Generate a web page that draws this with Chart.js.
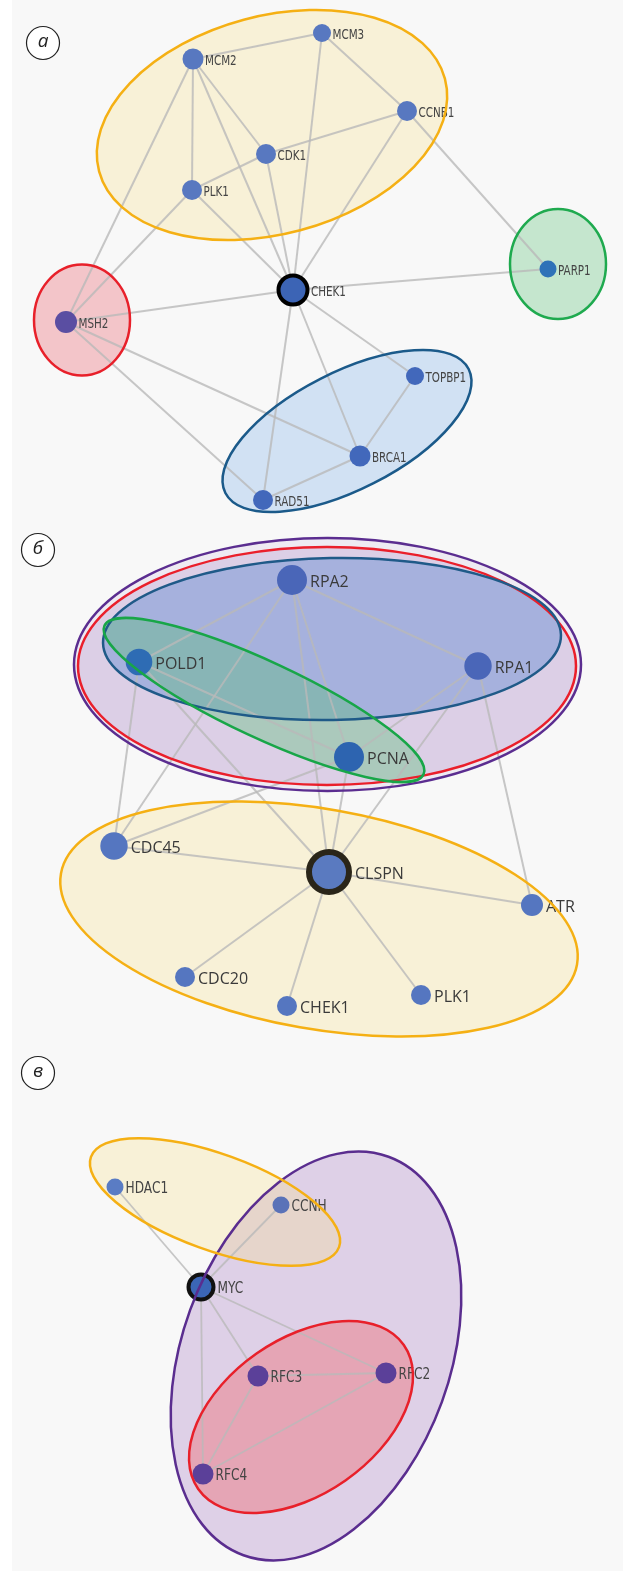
<!DOCTYPE html>
<html>
<head>
<meta charset="utf-8">
<script src="https://cdn.jsdelivr.net/npm/chart.js@4.4.1/dist/chart.umd.min.js"></script>
<style>
  html, body { margin: 0; padding: 0; background: #fff; }
  canvas { display: block; }
</style>
</head>
<body>
<canvas id="net" width="623" height="1571" style="width:623px;height:1571px"></canvas>
<script>
// panel а
const genesA = ["MCM2", "MCM3", "CCNB1", "CDK1", "PLK1", "CHEK1", "PARP1", "MSH2", "TOPBP1", "BRCA1", "RAD51"];
const xA = [193, 322, 407, 266, 192, 293, 548, 66, 415, 360, 263];
const yA = [59, 33, 111, 154, 190, 290, 269, 322, 376, 456, 500];
const edgesA = [
  ["MCM2", "MCM3"], ["MCM2", "PLK1"], ["MCM2", "CDK1"], ["MCM2", "CHEK1"], ["MCM2", "MSH2"],
  ["MCM3", "CCNB1"], ["MCM3", "CHEK1"], ["CCNB1", "CDK1"], ["CCNB1", "CHEK1"], ["CCNB1", "PARP1"],
  ["CDK1", "PLK1"], ["CDK1", "CHEK1"], ["PLK1", "CHEK1"], ["PLK1", "MSH2"], ["CHEK1", "MSH2"],
  ["CHEK1", "PARP1"], ["CHEK1", "TOPBP1"], ["CHEK1", "BRCA1"], ["CHEK1", "RAD51"],
  ["MSH2", "BRCA1"], ["MSH2", "RAD51"], ["TOPBP1", "BRCA1"], ["BRCA1", "RAD51"]
];

// panel б
const genesB = ["RPA2", "POLD1", "RPA1", "PCNA", "CDC45", "CLSPN", "ATR", "CDC20", "CHEK1", "PLK1"];
const xB = [292, 139, 478, 349, 114, 329, 532, 185, 287, 421];
const yB = [580, 662, 666, 757, 846, 872, 905, 977, 1006, 995];
const edgesB = [
  ["RPA2", "POLD1"], ["RPA2", "RPA1"], ["RPA2", "CDC45"], ["RPA2", "PCNA"], ["RPA2", "CLSPN"],
  ["POLD1", "PCNA"], ["POLD1", "CLSPN"], ["POLD1", "CDC45"],
  ["RPA1", "PCNA"], ["RPA1", "CLSPN"], ["RPA1", "ATR"],
  ["PCNA", "CDC45"], ["PCNA", "CLSPN"], ["CDC45", "CLSPN"],
  ["CLSPN", "ATR"], ["CLSPN", "CDC20"], ["CLSPN", "CHEK1"], ["CLSPN", "PLK1"]
];

// panel в
const genesC = ["HDAC1", "CCNH", "MYC", "RFC3", "RFC2", "RFC4"];
const xC = [115, 281, 201, 258, 386, 203];
const yC = [1187, 1205, 1287, 1376, 1373, 1474];
const edgesC = [
  ["HDAC1", "MYC"], ["CCNH", "MYC"], ["MYC", "RFC3"], ["MYC", "RFC2"], ["MYC", "RFC4"],
  ["RFC3", "RFC2"], ["RFC3", "RFC4"], ["RFC2", "RFC4"]
];

const panelLetters = ["а", "б", "в"];

// look of each panel
const panels = [
  {
    genes: genesA, xs: xA, ys: yA, edges: edgesA, edgeWidth: 2,
    radius: [10.5, 9, 10, 10, 10, 14.5, 8.5, 11, 9, 10.5, 10],
    border: [0, 0, 0, 0, 0, 4, 0, 0, 0, 0, 0],
    fill: ["#5878c0", "#5878c0", "#5878c0", "#5878c0", "#5878c0", "#3c64b5", "#2f72b8", "#5a4ea2", "#4268bb", "#4268bb", "#4268bb"],
    ring: "#000",
    font: { size: 14, family: "'DejaVu Sans'", squeeze: 0.74, color: "#444" },
    gap: 1.5,
    letter: { x: 43, y: 43 },
    ellipses: [
      { cx: 272, cy: 125, rx: 179, ry: 109, rot: -15, fill: "rgba(250,225,140,0.3)", stroke: "#f5b014" },
      { cx: 82, cy: 320, rx: 48, ry: 55.5, rot: 0, fill: "rgba(236,120,130,0.4)", stroke: "#e8202a" },
      { cx: 558, cy: 264, rx: 48, ry: 55, rot: 0, fill: "rgba(80,190,110,0.3)", stroke: "#1faa4f" },
      { cx: 347, cy: 431, rx: 136.5, ry: 58.6, rot: -27, fill: "rgba(150,190,235,0.4)", stroke: "#1b5a8a" }
    ]
  },
  {
    genes: genesB, xs: xB, ys: yB, edges: edgesB, edgeWidth: 2,
    radius: [15, 13.3, 13.7, 15, 13.7, 20, 11, 10, 10, 10],
    border: [0, 0, 0, 0, 0, 6, 0, 0, 0, 0],
    fill: ["#4a66b8", "#2e6cb4", "#4a66b8", "#2d64b0", "#5576c0", "#5a7ac0", "#5576c0", "#5576c0", "#5576c0", "#5576c0"],
    ring: "#2a2519",
    font: { size: 16, family: "'Open Sans'", squeeze: 1, color: "#3a3a3a" },
    gap: 3,
    letter: { x: 38, y: 550 },
    ellipses: [
      { cx: 327.5, cy: 664.5, rx: 253.5, ry: 126.5, rot: 0, fill: "rgba(200,180,220,0.2)", stroke: "#5b2d90" },
      { cx: 327, cy: 666, rx: 249, ry: 119, rot: 0, fill: "rgba(187,157,208,0.35)", stroke: "#ea1f2b" },
      { cx: 332, cy: 639, rx: 229, ry: 81, rot: -1, fill: "rgba(100,140,210,0.45)", stroke: "#1f5a88" },
      { cx: 264, cy: 700, rx: 176, ry: 38, rot: 25, fill: "rgba(80,190,110,0.35)", stroke: "#18a648" },
      { cx: 319, cy: 919, rx: 262, ry: 110, rot: 10, fill: "rgba(250,225,140,0.3)", stroke: "#f5b014" }
    ]
  },
  {
    genes: genesC, xs: xC, ys: yC, edges: edgesC, edgeWidth: 1.8,
    radius: [8.5, 8.5, 12.5, 10.5, 10.5, 10.5],
    border: [0, 0, 4, 0, 0, 0],
    fill: ["#5a7cc4", "#5a72b8", "#3b66b6", "#5b4099", "#5b4099", "#5b4099"],
    ring: "#111",
    font: { size: 16, family: "'DejaVu Sans'", squeeze: 0.76, color: "#444" },
    gap: 2,
    letter: { x: 38, y: 1073 },
    ellipses: [
      { cx: 316, cy: 1356, rx: 134, ry: 212, rot: 20, fill: "rgba(190,160,210,0.45)", stroke: "#5a2d8f" },
      { cx: 215, cy: 1202, rx: 132, ry: 48, rot: 20, fill: "rgba(250,225,140,0.3)", stroke: "#f5b014" },
      { cx: 301, cy: 1417, rx: 125.5, ry: 77.5, rot: -35, fill: "rgba(236,122,131,0.5)", stroke: "#e8202a" }
    ]
  }
];

const datasets = [];
panels.forEach((p, pi) => {
  p.edges.forEach(([a, b]) => {
    const i = p.genes.indexOf(a);
    const j = p.genes.indexOf(b);
    datasets.push({
      data: [{ x: p.xs[i], y: p.ys[i] }, { x: p.xs[j], y: p.ys[j] }],
      showLine: true,
      borderColor: "rgba(185,185,185,0.8)",
      borderWidth: p.edgeWidth,
      pointRadius: 0,
      order: 2
    });
  });
  datasets.push({
    panel: pi,
    data: p.genes.map((g, i) => ({ x: p.xs[i], y: p.ys[i] })),
    pointRadius: p.radius,
    pointBackgroundColor: p.fill,
    pointBorderColor: p.ring,
    pointBorderWidth: p.border,
    order: 1
  });
});

function ellipsePath(chart, e) {
  const sx = chart.scales.x, sy = chart.scales.y, ctx = chart.ctx;
  const cx = sx.getPixelForValue(e.cx), cy = sy.getPixelForValue(e.cy);
  const rx = Math.abs(sx.getPixelForValue(e.cx + e.rx) - cx);
  const ry = Math.abs(sy.getPixelForValue(e.cy + e.ry) - cy);
  ctx.beginPath();
  ctx.ellipse(cx, cy, rx, ry, e.rot * Math.PI / 180, 0, Math.PI * 2);
}

const netPlugin = {
  id: "net",
  beforeDatasetsDraw(chart) {
    const ctx = chart.ctx;
    ctx.save();
    ctx.fillStyle = "#f8f8f8";
    ctx.fillRect(12, 0, chart.width - 12, chart.height);
    panels.forEach((p) => {
      p.ellipses.forEach((e) => {
        ellipsePath(chart, e);
        ctx.fillStyle = e.fill;
        ctx.fill();
      });
    });
    ctx.restore();
  },
  afterDatasetsDraw(chart) {
    const ctx = chart.ctx;
    ctx.save();
    // gene labels
    chart.data.datasets.forEach((ds, di) => {
      if (ds.panel === undefined) return;
      const p = panels[ds.panel];
      const meta = chart.getDatasetMeta(di);
      ctx.font = p.font.size + "px " + p.font.family;
      ctx.fillStyle = p.font.color;
      ctx.textBaseline = "middle";
      meta.data.forEach((pt, i) => {
        const off = p.radius[i] + p.border[i] / 2 + p.gap;
        ctx.save();
        ctx.translate(pt.x + off, pt.y + 2);
        ctx.scale(p.font.squeeze, 1);
        ctx.fillText(p.genes[i], 0, 0);
        ctx.restore();
      });
    });
    // cluster outlines
    panels.forEach((p) => {
      p.ellipses.forEach((e) => {
        ellipsePath(chart, e);
        ctx.strokeStyle = e.stroke;
        ctx.lineWidth = 2.5;
        ctx.stroke();
      });
    });
    // panel letters
    panels.forEach((p, i) => {
      ctx.beginPath();
      ctx.arc(p.letter.x, p.letter.y, 16.5, 0, Math.PI * 2);
      ctx.fillStyle = "#fff";
      ctx.fill();
      ctx.lineWidth = 1.2;
      ctx.strokeStyle = "#222";
      ctx.stroke();
      ctx.fillStyle = "#222";
      ctx.font = "italic 19px 'Open Sans'";
      ctx.textAlign = "center";
      ctx.textBaseline = "middle";
      ctx.fillText(panelLetters[i], p.letter.x, p.letter.y - 1);
    });
    ctx.restore();
  }
};

new Chart(document.getElementById("net"), {
  type: "scatter",
  data: { datasets },
  options: {
    responsive: false,
    animation: false,
    devicePixelRatio: 1,
    layout: { padding: 0, autoPadding: false },
    plugins: { legend: { display: false }, tooltip: { enabled: false } },
    scales: {
      x: { type: "linear", min: 0, max: 623, display: false },
      y: { type: "linear", min: 0, max: 1571, reverse: true, display: false }
    }
  },
  plugins: [netPlugin]
});
</script>
</body>
</html>
